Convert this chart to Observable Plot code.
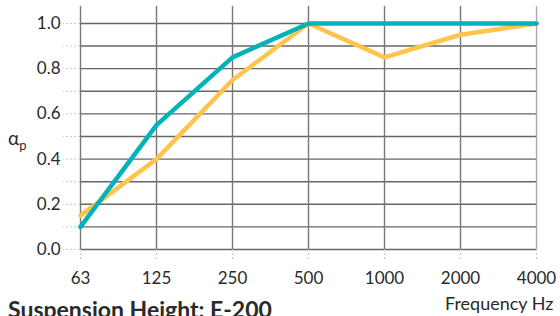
<!DOCTYPE html>
<html><head><meta charset="utf-8">
<script src="https://cdn.jsdelivr.net/npm/d3@7"></script>
<script src="https://cdn.jsdelivr.net/npm/@observablehq/plot@0.6"></script>
<style>
body{margin:0;background:#fff;font-family:Lato,"Open Sans",sans-serif;}
#wrap{position:relative;width:560px;height:316px;overflow:hidden;}
.lbl{position:absolute;color:#2a2a2a;white-space:nowrap;line-height:1;}
</style></head>
<body><div id="wrap"></div>
<script>
const freqs = ["63","125","250","500","1000","2000","4000"];
const tealValues = [0.10,0.55,0.85,1.0,1.0,1.0,1.0];
const yellowValues = [0.15,0.40,0.75,1.0,0.85,0.95,1.0];
const yTicks = [0,0.1,0.2,0.3,0.4,0.5,0.6,0.7,0.8,0.9,1.0];
const yLabelTicks = [0,0.2,0.4,0.6,0.8,1.0];
const title = "Suspension Height: E-200";
const xLabel = "Frequency Hz";

const teal = freqs.map((f,i)=>({f, v: tealValues[i]}));
const yellow = freqs.map((f,i)=>({f, v: yellowValues[i]}));

const chart = Plot.plot({
  width:560, height:316,
  marginTop:6, marginRight:24, marginBottom:67, marginLeft:80,
  style:{fontFamily:"Lato, 'Open Sans', sans-serif", fontSize:"17px", color:"#333", background:"#fff"},
  x:{type:"point", domain:freqs, padding:0},
  y:{domain:[0,1.075]},
  marks:[
    Plot.ruleY(yTicks.slice(1), {stroke:"#666", strokeWidth:1.4}),
    Plot.ruleX(freqs.slice(0,-1), {stroke:"#777", strokeWidth:1.4}),
    Plot.ruleX(freqs.slice(-1), {stroke:"#aaa", strokeWidth:1.4}),
    Plot.ruleY([0], {stroke:"#666", strokeWidth:1.6}),
    Plot.axisX({ticks:freqs, tickSize:11, tickPadding:11, stroke:"#c8c8c8", strokeDasharray:"2,2", fontSize:17, fill:"#2a2a2a", label:null}),
    Plot.axisY({ticks:yTicks, tickSize:17, tickPadding:3, stroke:"#c8c8c8", strokeDasharray:"2,2", tickFormat:d => yLabelTicks.some(t=>Math.abs(t-d)<1e-9) ? d.toFixed(1) : "", fontSize:17, fill:"#2a2a2a", label:null}),
    Plot.line(yellow, {x:"f", y:"v", stroke:"#ffc44c", strokeWidth:4.5, strokeLinejoin:"round"}),
    Plot.line(teal, {x:"f", y:"v", stroke:"#00b3b8", strokeWidth:4.5, strokeLinejoin:"round"})
  ]
});
const wrap = document.getElementById("wrap");
wrap.appendChild(chart);
const a = document.createElement("div");
a.className="lbl"; a.style.left="8px"; a.style.top="128px"; a.style.fontSize="19px";
a.innerHTML = "α<span style='font-size:13px;position:relative;top:5px'>p</span>";
wrap.appendChild(a);
const xl = document.createElement("div");
xl.className="lbl"; xl.style.left="445px"; xl.style.top="294px"; xl.style.fontSize="18px";
xl.textContent = xLabel; wrap.appendChild(xl);
const t = document.createElement("div");
t.className="lbl"; t.style.left="8px"; t.style.top="298px"; t.style.fontSize="23px"; t.style.fontWeight="bold";
t.textContent = title; wrap.appendChild(t);
</script></body></html>
